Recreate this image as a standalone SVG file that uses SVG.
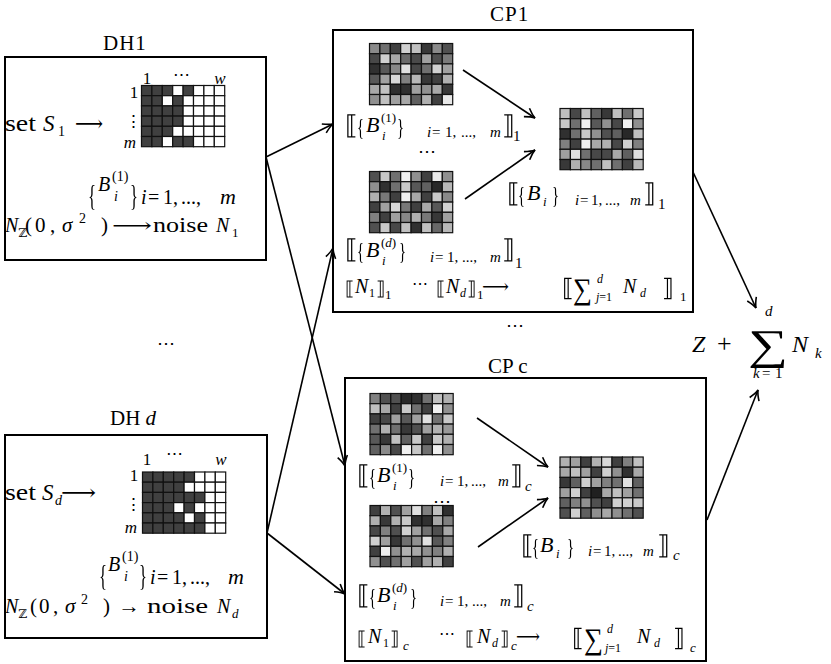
<svg xmlns="http://www.w3.org/2000/svg" width="831" height="664" viewBox="0 0 831 664">
<style>
text{font-family:"Liberation Serif","DejaVu Serif",serif;fill:#000}
.i{font-style:italic}
.db{font-family:"DejaVu Serif",serif}
.node{filter:url(#gs)}
.box{fill:#fff;stroke:#000;stroke-width:2}
.g rect{width:10.4px;height:10.2px;stroke:#111;stroke-width:1.2}
.ln{stroke:#000;stroke-width:1.6;fill:none}
.b{font-size:26px}
.br{font-size:24px}
.s{font-size:13px}
.m{font-size:22px}
.sub{font-size:15px}
.n{font-size:20px}
</style>
<defs>
<filter id="gs" x="0" y="0" width="831" height="664" filterUnits="userSpaceOnUse"><feOffset dx="0" dy="0"/></filter>
<marker id="ah" viewBox="0 0 12 12" refX="11" refY="6" markerWidth="12" markerHeight="12" markerUnits="userSpaceOnUse" orient="auto">
<path d="M1,1 Q7,5 11,6 Q7,7 1,11" fill="none" stroke="#000" stroke-width="1.6"/>
</marker>
</defs>
<rect width="831" height="664" fill="#fff"/>

<g id="DH1">
<rect class="box" x="5" y="57" width="261" height="203"/>
<text x="103" y="50" font-size="21" letter-spacing="1">DH1</text>
<text x="5" y="131" font-size="23" textLength="31" lengthAdjust="spacingAndGlyphs">set</text>
<text x="43" y="131" font-size="23" class="i">S</text>
<text x="58" y="136" font-size="14">1</text>
<text x="75" y="131" class="m" textLength="28" lengthAdjust="spacingAndGlyphs">⟶</text>
<text x="147" y="84" font-size="17" text-anchor="middle">1</text>
<text x="181" y="80" font-size="17" text-anchor="middle">⋯</text>
<text x="220" y="84" font-size="17" text-anchor="middle" class="i">w</text>
<text x="134" y="98" font-size="17" text-anchor="middle">1</text>
<text x="133" y="127" font-size="17" text-anchor="middle">⋮</text>
<text x="130" y="148" font-size="17" text-anchor="middle" class="i">m</text>
<g class="g" transform="translate(141.5,85.5)">
<rect x="0" y="0" fill="#404040"/><rect x="10.4" y="0" fill="#404040"/><rect x="20.8" y="0" fill="#404040"/><rect x="31.2" y="0" fill="#fff"/><rect x="41.6" y="0" fill="#404040"/><rect x="52" y="0" fill="#fff"/><rect x="62.4" y="0" fill="#fff"/><rect x="72.8" y="0" fill="#fff"/>
<rect x="0" y="10.2" fill="#404040"/><rect x="10.4" y="10.2" fill="#404040"/><rect x="20.8" y="10.2" fill="#fff"/><rect x="31.2" y="10.2" fill="#404040"/><rect x="41.6" y="10.2" fill="#fff"/><rect x="52" y="10.2" fill="#fff"/><rect x="62.4" y="10.2" fill="#fff"/><rect x="72.8" y="10.2" fill="#fff"/>
<rect x="0" y="20.4" fill="#404040"/><rect x="10.4" y="20.4" fill="#404040"/><rect x="20.8" y="20.4" fill="#404040"/><rect x="31.2" y="20.4" fill="#404040"/><rect x="41.6" y="20.4" fill="#fff"/><rect x="52" y="20.4" fill="#fff"/><rect x="62.4" y="20.4" fill="#fff"/><rect x="72.8" y="20.4" fill="#fff"/>
<rect x="0" y="30.6" fill="#404040"/><rect x="10.4" y="30.6" fill="#404040"/><rect x="20.8" y="30.6" fill="#404040"/><rect x="31.2" y="30.6" fill="#404040"/><rect x="41.6" y="30.6" fill="#fff"/><rect x="52" y="30.6" fill="#fff"/><rect x="62.4" y="30.6" fill="#fff"/><rect x="72.8" y="30.6" fill="#fff"/>
<rect x="0" y="40.8" fill="#404040"/><rect x="10.4" y="40.8" fill="#404040"/><rect x="20.8" y="40.8" fill="#404040"/><rect x="31.2" y="40.8" fill="#fff"/><rect x="41.6" y="40.8" fill="#fff"/><rect x="52" y="40.8" fill="#fff"/><rect x="62.4" y="40.8" fill="#fff"/><rect x="72.8" y="40.8" fill="#fff"/>
<rect x="0" y="51" fill="#404040"/><rect x="10.4" y="51" fill="#404040"/><rect x="20.8" y="51" fill="#fff"/><rect x="31.2" y="51" fill="#404040"/><rect x="41.6" y="51" fill="#404040"/><rect x="52" y="51" fill="#fff"/><rect x="62.4" y="51" fill="#fff"/><rect x="72.8" y="51" fill="#fff"/>
</g>
<g class="node">
<text x="88" y="205" font-size="30" textLength="8" lengthAdjust="spacingAndGlyphs">{</text>
<text x="130" y="205" font-size="30" textLength="8" lengthAdjust="spacingAndGlyphs">}</text>
</g>
<text x="98" y="191" class="n i">B</text>
<text x="112" y="181" font-size="14">(1)</text>
<text x="114" y="201" font-size="14" class="i">i</text>
<text y="204" class="n"><tspan x="141" class="i">i</tspan><tspan x="148">=</tspan><tspan x="163">1,</tspan><tspan x="181">...,</tspan><tspan x="220" class="i" font-size="22">m</tspan></text>
<text x="5" y="232" class="n i">N</text>
<text x="18" y="237" font-size="12" class="db">ℤ</text>
<text y="232" font-size="21"><tspan x="25">(</tspan><tspan x="35">0</tspan><tspan x="50">,</tspan><tspan x="62" class="i">σ</tspan><tspan x="79" y="223" font-size="14">2</tspan><tspan x="101" y="232">)</tspan></text>
<text x="112" y="232" class="n" textLength="40" lengthAdjust="spacingAndGlyphs">⟶</text>
<text x="153" y="232" class="n" textLength="55" lengthAdjust="spacingAndGlyphs">noise</text>
<text x="216" y="232" class="n i">N</text>
<text x="232" y="237" class="s">1</text>
</g>

<text x="166" y="349" font-size="18" text-anchor="middle">⋯</text>

<g id="DHd">
<rect class="box" x="5" y="435" width="262" height="203"/>
<text x="110" y="425" font-size="21">DH <tspan class="i">d</tspan></text>
<text x="5" y="500" font-size="23" textLength="31" lengthAdjust="spacingAndGlyphs">set</text>
<text x="42" y="500" font-size="23" class="i">S</text>
<text x="55" y="505" font-size="14" class="i">d</text>
<text x="61" y="500" class="m" textLength="35" lengthAdjust="spacingAndGlyphs">⟶</text>
<text x="147" y="465" font-size="17" text-anchor="middle">1</text>
<text x="174" y="459" font-size="17" text-anchor="middle">⋯</text>
<text x="221" y="465" font-size="17" text-anchor="middle" class="i">w</text>
<text x="134" y="481" font-size="17" text-anchor="middle">1</text>
<text x="133" y="510" font-size="17" text-anchor="middle">⋮</text>
<text x="131" y="533" font-size="17" text-anchor="middle" class="i">m</text>
<g class="g" transform="translate(142.5,472)">
<rect x="0" y="0" fill="#404040"/><rect x="10.4" y="0" fill="#404040"/><rect x="20.8" y="0" fill="#404040"/><rect x="31.2" y="0" fill="#404040"/><rect x="41.6" y="0" fill="#404040"/><rect x="52" y="0" fill="#fff"/><rect x="62.4" y="0" fill="#fff"/><rect x="72.8" y="0" fill="#fff"/>
<rect x="0" y="10.2" fill="#404040"/><rect x="10.4" y="10.2" fill="#404040"/><rect x="20.8" y="10.2" fill="#404040"/><rect x="31.2" y="10.2" fill="#404040"/><rect x="41.6" y="10.2" fill="#fff"/><rect x="52" y="10.2" fill="#fff"/><rect x="62.4" y="10.2" fill="#fff"/><rect x="72.8" y="10.2" fill="#fff"/>
<rect x="0" y="20.4" fill="#404040"/><rect x="10.4" y="20.4" fill="#404040"/><rect x="20.8" y="20.4" fill="#404040"/><rect x="31.2" y="20.4" fill="#404040"/><rect x="41.6" y="20.4" fill="#404040"/><rect x="52" y="20.4" fill="#404040"/><rect x="62.4" y="20.4" fill="#fff"/><rect x="72.8" y="20.4" fill="#fff"/>
<rect x="0" y="30.6" fill="#404040"/><rect x="10.4" y="30.6" fill="#404040"/><rect x="20.8" y="30.6" fill="#404040"/><rect x="31.2" y="30.6" fill="#fff"/><rect x="41.6" y="30.6" fill="#404040"/><rect x="52" y="30.6" fill="#fff"/><rect x="62.4" y="30.6" fill="#fff"/><rect x="72.8" y="30.6" fill="#fff"/>
<rect x="0" y="40.8" fill="#404040"/><rect x="10.4" y="40.8" fill="#404040"/><rect x="20.8" y="40.8" fill="#404040"/><rect x="31.2" y="40.8" fill="#404040"/><rect x="41.6" y="40.8" fill="#fff"/><rect x="52" y="40.8" fill="#404040"/><rect x="62.4" y="40.8" fill="#fff"/><rect x="72.8" y="40.8" fill="#fff"/>
<rect x="0" y="51" fill="#404040"/><rect x="10.4" y="51" fill="#404040"/><rect x="20.8" y="51" fill="#404040"/><rect x="31.2" y="51" fill="#404040"/><rect x="41.6" y="51" fill="#404040"/><rect x="52" y="51" fill="#404040"/><rect x="62.4" y="51" fill="#fff"/><rect x="72.8" y="51" fill="#fff"/>
</g>
<g class="node">
<text x="99" y="585" font-size="30" textLength="8" lengthAdjust="spacingAndGlyphs">{</text>
<text x="139" y="585" font-size="30" textLength="8" lengthAdjust="spacingAndGlyphs">}</text>
</g>
<text x="108" y="571" class="n i">B</text>
<text x="122" y="561" font-size="14">(1)</text>
<text x="124" y="581" font-size="14" class="i">i</text>
<text y="584" class="n"><tspan x="150" class="i">i</tspan><tspan x="157">=</tspan><tspan x="172">1,</tspan><tspan x="190">...,</tspan><tspan x="228" class="i" font-size="22">m</tspan></text>
<text x="5" y="613" class="n i">N</text>
<text x="18" y="618" font-size="12" class="db">ℤ</text>
<text y="613" font-size="21"><tspan x="30">(</tspan><tspan x="39">0</tspan><tspan x="53">,</tspan><tspan x="65" class="i">σ</tspan><tspan x="81" y="604" font-size="14">2</tspan><tspan x="103" y="613">)</tspan></text>
<text x="118" y="613" class="n" textLength="22" lengthAdjust="spacingAndGlyphs">→</text>
<text x="147" y="613" class="n" textLength="61" lengthAdjust="spacingAndGlyphs">noise</text>
<text x="217" y="613" class="n i">N</text>
<text x="232" y="618" class="s i">d</text>
</g>

<g id="CP1">
<rect class="box" x="333" y="30" width="360" height="282"/>
<text x="490" y="21" font-size="21" letter-spacing="1">CP1</text>
<g class="g" transform="translate(369.5,43.5)">
<rect x="0" y="0" fill="#8a8a8a"/><rect x="10.4" y="0" fill="#707070"/><rect x="20.8" y="0" fill="#404040"/><rect x="31.2" y="0" fill="#d0d0d0"/><rect x="41.6" y="0" fill="#c0c0c0"/><rect x="52" y="0" fill="#383838"/><rect x="62.4" y="0" fill="#8a8a8a"/><rect x="72.8" y="0" fill="#505050"/>
<rect x="0" y="10.2" fill="#484848"/><rect x="10.4" y="10.2" fill="#d0d0d0"/><rect x="20.8" y="10.2" fill="#a8a8a8"/><rect x="31.2" y="10.2" fill="#6a6a6a"/><rect x="41.6" y="10.2" fill="#4a4a4a"/><rect x="52" y="10.2" fill="#a0a0a0"/><rect x="62.4" y="10.2" fill="#505050"/><rect x="72.8" y="10.2" fill="#7a7a7a"/>
<rect x="0" y="20.4" fill="#303030"/><rect x="10.4" y="20.4" fill="#585858"/><rect x="20.8" y="20.4" fill="#888888"/><rect x="31.2" y="20.4" fill="#e0e0e0"/><rect x="41.6" y="20.4" fill="#484848"/><rect x="52" y="20.4" fill="#707070"/><rect x="62.4" y="20.4" fill="#d0d0d0"/><rect x="72.8" y="20.4" fill="#a0a0a0"/>
<rect x="0" y="30.6" fill="#585858"/><rect x="10.4" y="30.6" fill="#a0a0a0"/><rect x="20.8" y="30.6" fill="#d8d8d8"/><rect x="31.2" y="30.6" fill="#808080"/><rect x="41.6" y="30.6" fill="#b8b8b8"/><rect x="52" y="30.6" fill="#383838"/><rect x="62.4" y="30.6" fill="#404040"/><rect x="72.8" y="30.6" fill="#b0b0b0"/>
<rect x="0" y="40.8" fill="#a8a8a8"/><rect x="10.4" y="40.8" fill="#c0c0c0"/><rect x="20.8" y="40.8" fill="#303030"/><rect x="31.2" y="40.8" fill="#303030"/><rect x="41.6" y="40.8" fill="#a0a0a0"/><rect x="52" y="40.8" fill="#909090"/><rect x="62.4" y="40.8" fill="#a8a8a8"/><rect x="72.8" y="40.8" fill="#383838"/>
<rect x="0" y="51" fill="#909090"/><rect x="10.4" y="51" fill="#c0c0c0"/><rect x="20.8" y="51" fill="#a0a0a0"/><rect x="31.2" y="51" fill="#a8a8a8"/><rect x="41.6" y="51" fill="#606060"/><rect x="52" y="51" fill="#b0b0b0"/><rect x="62.4" y="51" fill="#404040"/><rect x="72.8" y="51" fill="#e8e8e8"/>
</g>
<g class="g" transform="translate(369.5,171.5)">
<rect x="0" y="0" fill="#505050"/><rect x="10.4" y="0" fill="#c8c8c8"/><rect x="20.8" y="0" fill="#707070"/><rect x="31.2" y="0" fill="#f0f0f0"/><rect x="41.6" y="0" fill="#909090"/><rect x="52" y="0" fill="#404040"/><rect x="62.4" y="0" fill="#e8e8e8"/><rect x="72.8" y="0" fill="#909090"/>
<rect x="0" y="10.2" fill="#909090"/><rect x="10.4" y="10.2" fill="#303030"/><rect x="20.8" y="10.2" fill="#707070"/><rect x="31.2" y="10.2" fill="#c8c8c8"/><rect x="41.6" y="10.2" fill="#585858"/><rect x="52" y="10.2" fill="#606060"/><rect x="62.4" y="10.2" fill="#282828"/><rect x="72.8" y="10.2" fill="#b8b8b8"/>
<rect x="0" y="20.4" fill="#b0b0b0"/><rect x="10.4" y="20.4" fill="#787878"/><rect x="20.8" y="20.4" fill="#404040"/><rect x="31.2" y="20.4" fill="#f0f0f0"/><rect x="41.6" y="20.4" fill="#a8a8a8"/><rect x="52" y="20.4" fill="#404040"/><rect x="62.4" y="20.4" fill="#c8c8c8"/><rect x="72.8" y="20.4" fill="#888888"/>
<rect x="0" y="30.6" fill="#404040"/><rect x="10.4" y="30.6" fill="#a0a0a0"/><rect x="20.8" y="30.6" fill="#d8d8d8"/><rect x="31.2" y="30.6" fill="#787878"/><rect x="41.6" y="30.6" fill="#404040"/><rect x="52" y="30.6" fill="#a8a8a8"/><rect x="62.4" y="30.6" fill="#585858"/><rect x="72.8" y="30.6" fill="#d0d0d0"/>
<rect x="0" y="40.8" fill="#808080"/><rect x="10.4" y="40.8" fill="#404040"/><rect x="20.8" y="40.8" fill="#a0a0a0"/><rect x="31.2" y="40.8" fill="#888888"/><rect x="41.6" y="40.8" fill="#b0b0b0"/><rect x="52" y="40.8" fill="#787878"/><rect x="62.4" y="40.8" fill="#383838"/><rect x="72.8" y="40.8" fill="#a0a0a0"/>
<rect x="0" y="51" fill="#505050"/><rect x="10.4" y="51" fill="#c8c8c8"/><rect x="20.8" y="51" fill="#484848"/><rect x="31.2" y="51" fill="#c0c0c0"/><rect x="41.6" y="51" fill="#303030"/><rect x="52" y="51" fill="#c0c0c0"/><rect x="62.4" y="51" fill="#686868"/><rect x="72.8" y="51" fill="#b8b8b8"/>
</g>
<g class="g" transform="translate(560,108.5)">
<rect x="0" y="0" fill="#c0c0c0"/><rect x="10.4" y="0" fill="#484848"/><rect x="20.8" y="0" fill="#c0c0c0"/><rect x="31.2" y="0" fill="#606060"/><rect x="41.6" y="0" fill="#383838"/><rect x="52" y="0" fill="#c0c0c0"/><rect x="62.4" y="0" fill="#707070"/><rect x="72.8" y="0" fill="#c8c8c8"/>
<rect x="0" y="10.2" fill="#c8c8c8"/><rect x="10.4" y="10.2" fill="#707070"/><rect x="20.8" y="10.2" fill="#f0f0f0"/><rect x="31.2" y="10.2" fill="#585858"/><rect x="41.6" y="10.2" fill="#909090"/><rect x="52" y="10.2" fill="#484848"/><rect x="62.4" y="10.2" fill="#f0f0f0"/><rect x="72.8" y="10.2" fill="#909090"/>
<rect x="0" y="20.4" fill="#303030"/><rect x="10.4" y="20.4" fill="#707070"/><rect x="20.8" y="20.4" fill="#c8c8c8"/><rect x="31.2" y="20.4" fill="#909090"/><rect x="41.6" y="20.4" fill="#505050"/><rect x="52" y="20.4" fill="#606060"/><rect x="62.4" y="20.4" fill="#282828"/><rect x="72.8" y="20.4" fill="#c0c0c0"/>
<rect x="0" y="30.6" fill="#808080"/><rect x="10.4" y="30.6" fill="#404040"/><rect x="20.8" y="30.6" fill="#f0f0f0"/><rect x="31.2" y="30.6" fill="#a8a8a8"/><rect x="41.6" y="30.6" fill="#b0b0b0"/><rect x="52" y="30.6" fill="#484848"/><rect x="62.4" y="30.6" fill="#d0d0d0"/><rect x="72.8" y="30.6" fill="#808080"/>
<rect x="0" y="40.8" fill="#a0a0a0"/><rect x="10.4" y="40.8" fill="#e0e0e0"/><rect x="20.8" y="40.8" fill="#707070"/><rect x="31.2" y="40.8" fill="#484848"/><rect x="41.6" y="40.8" fill="#484848"/><rect x="52" y="40.8" fill="#a8a8a8"/><rect x="62.4" y="40.8" fill="#606060"/><rect x="72.8" y="40.8" fill="#e0e0e0"/>
<rect x="0" y="51" fill="#383838"/><rect x="10.4" y="51" fill="#b0b0b0"/><rect x="20.8" y="51" fill="#888888"/><rect x="31.2" y="51" fill="#707070"/><rect x="41.6" y="51" fill="#c0c0c0"/><rect x="52" y="51" fill="#707070"/><rect x="62.4" y="51" fill="#404040"/><rect x="72.8" y="51" fill="#b8b8b8"/>
</g>
<g class="node">
<text x="345" y="134" class="b db">⟦</text>
<text x="357" y="135" class="br" textLength="7" lengthAdjust="spacingAndGlyphs">{</text>
<text x="397" y="135" class="br" textLength="7" lengthAdjust="spacingAndGlyphs">}</text>
<text x="502" y="134" class="b db">⟧</text>
<text x="507" y="202" class="b db">⟦</text>
<text x="518" y="203" class="br" textLength="7" lengthAdjust="spacingAndGlyphs">{</text>
<text x="552" y="203" class="br" textLength="7" lengthAdjust="spacingAndGlyphs">}</text>
<text x="643" y="202" class="b db">⟧</text>
<text x="345" y="258" class="b db">⟦</text>
<text x="357" y="259" class="br" textLength="7" lengthAdjust="spacingAndGlyphs">{</text>
<text x="399" y="259" class="br" textLength="7" lengthAdjust="spacingAndGlyphs">}</text>
<text x="502" y="258" class="b db">⟧</text>
<text x="345" y="295" class="db" font-size="19">⟦</text>
<text x="376" y="295" class="db" font-size="19">⟧</text>
<text x="436" y="295" class="db" font-size="19">⟦</text>
<text x="467" y="295" class="db" font-size="19">⟧</text>
<text x="562" y="296" class="br db">⟦</text>
<text x="662" y="296" class="br db">⟧</text>
</g>
<text x="366" y="132" class="m i">B</text>
<text x="381" y="122" class="s">(1)</text>
<text x="382" y="140" class="s i">i</text>
<text y="137" class="sub"><tspan x="427" class="i">i</tspan><tspan x="432">=</tspan><tspan x="445">1,</tspan><tspan x="461">...,</tspan><tspan x="490" class="i">m</tspan></text>
<text x="513" y="141" class="sub">1</text>
<text x="427" y="157" font-size="18" text-anchor="middle">⋯</text>
<text x="527" y="200" class="m i">B</text>
<text x="543" y="206" class="s i">i</text>
<text y="205" class="sub"><tspan x="575" class="i">i</tspan><tspan x="580">=</tspan><tspan x="591">1,</tspan><tspan x="605">...,</tspan><tspan x="630" class="i">m</tspan></text>
<text x="658" y="209" class="sub">1</text>
<text x="366" y="257" class="m i">B</text>
<text x="381" y="247" class="s">(<tspan class="i">d</tspan>)</text>
<text x="382" y="265" class="s i">i</text>
<text y="262" class="sub"><tspan x="430" class="i">i</tspan><tspan x="435">=</tspan><tspan x="447">1,</tspan><tspan x="462">...,</tspan><tspan x="490" class="i">m</tspan></text>
<text x="515" y="268" class="sub">1</text>
<text x="355" y="293" class="n i">N</text>
<text x="369" y="297" font-size="12">1</text>
<text x="385" y="299" class="s">1</text>
<text x="420" y="289" font-size="16" text-anchor="middle">⋯</text>
<text x="446" y="293" class="n i">N</text>
<text x="460" y="297" font-size="12" class="i">d</text>
<text x="477" y="299" class="s">1</text>
<text x="482" y="293" class="n" textLength="27" lengthAdjust="spacingAndGlyphs">⟶</text>
<text x="573" y="299" font-size="30" textLength="19" lengthAdjust="spacingAndGlyphs">∑</text>
<text x="597" y="283" font-size="12" class="i">d</text>
<text x="596" y="301" font-size="12"><tspan class="i">j</tspan>=1</text>
<text x="623" y="293" class="n i">N</text>
<text x="640" y="297" font-size="12" class="i">d</text>
<text x="680" y="301" class="s">1</text>
</g>

<text x="515" y="331" font-size="18" text-anchor="middle">⋯</text>

<g id="CPc">
<rect class="box" x="345" y="378" width="361" height="283"/>
<text x="488" y="373" font-size="21">CP c</text>
<g class="g" transform="translate(370,393.5)">
<rect x="0" y="0" fill="#808080"/><rect x="10.4" y="0" fill="#505050"/><rect x="20.8" y="0" fill="#505050"/><rect x="31.2" y="0" fill="#282828"/><rect x="41.6" y="0" fill="#303030"/><rect x="52" y="0" fill="#707070"/><rect x="62.4" y="0" fill="#c0c0c0"/><rect x="72.8" y="0" fill="#b0b0b0"/>
<rect x="0" y="10.2" fill="#c0c0c0"/><rect x="10.4" y="10.2" fill="#a8a8a8"/><rect x="20.8" y="10.2" fill="#404040"/><rect x="31.2" y="10.2" fill="#c8c8c8"/><rect x="41.6" y="10.2" fill="#707070"/><rect x="52" y="10.2" fill="#404040"/><rect x="62.4" y="10.2" fill="#f0f0f0"/><rect x="72.8" y="10.2" fill="#909090"/>
<rect x="0" y="20.4" fill="#404040"/><rect x="10.4" y="20.4" fill="#484848"/><rect x="20.8" y="20.4" fill="#a0a0a0"/><rect x="31.2" y="20.4" fill="#585858"/><rect x="41.6" y="20.4" fill="#a0a0a0"/><rect x="52" y="20.4" fill="#e0e0e0"/><rect x="62.4" y="20.4" fill="#707070"/><rect x="72.8" y="20.4" fill="#c8c8c8"/>
<rect x="0" y="30.6" fill="#707070"/><rect x="10.4" y="30.6" fill="#b0b0b0"/><rect x="20.8" y="30.6" fill="#707070"/><rect x="31.2" y="30.6" fill="#383838"/><rect x="41.6" y="30.6" fill="#505050"/><rect x="52" y="30.6" fill="#a0a0a0"/><rect x="62.4" y="30.6" fill="#b0b0b0"/><rect x="72.8" y="30.6" fill="#989898"/>
<rect x="0" y="40.8" fill="#585858"/><rect x="10.4" y="40.8" fill="#383838"/><rect x="20.8" y="40.8" fill="#c0c0c0"/><rect x="31.2" y="40.8" fill="#606060"/><rect x="41.6" y="40.8" fill="#c8c8c8"/><rect x="52" y="40.8" fill="#404040"/><rect x="62.4" y="40.8" fill="#c8c8c8"/><rect x="72.8" y="40.8" fill="#b0b0b0"/>
<rect x="0" y="51" fill="#606060"/><rect x="10.4" y="51" fill="#8a8a8a"/><rect x="20.8" y="51" fill="#484848"/><rect x="31.2" y="51" fill="#f0f0f0"/><rect x="41.6" y="51" fill="#c8c8c8"/><rect x="52" y="51" fill="#707070"/><rect x="62.4" y="51" fill="#f0f0f0"/><rect x="72.8" y="51" fill="#909090"/>
</g>
<g class="g" transform="translate(370,505.5)">
<rect x="0" y="0" fill="#404040"/><rect x="10.4" y="0" fill="#b0b0b0"/><rect x="20.8" y="0" fill="#505050"/><rect x="31.2" y="0" fill="#a0a0a0"/><rect x="41.6" y="0" fill="#e0e0e0"/><rect x="52" y="0" fill="#808080"/><rect x="62.4" y="0" fill="#c0c0c0"/><rect x="72.8" y="0" fill="#303030"/>
<rect x="0" y="10.2" fill="#b0b0b0"/><rect x="10.4" y="10.2" fill="#383838"/><rect x="20.8" y="10.2" fill="#b0b0b0"/><rect x="31.2" y="10.2" fill="#c8c8c8"/><rect x="41.6" y="10.2" fill="#303030"/><rect x="52" y="10.2" fill="#303030"/><rect x="62.4" y="10.2" fill="#a8a8a8"/><rect x="72.8" y="10.2" fill="#808080"/>
<rect x="0" y="20.4" fill="#484848"/><rect x="10.4" y="20.4" fill="#808080"/><rect x="20.8" y="20.4" fill="#505050"/><rect x="31.2" y="20.4" fill="#d0d0d0"/><rect x="41.6" y="20.4" fill="#a0a0a0"/><rect x="52" y="20.4" fill="#707070"/><rect x="62.4" y="20.4" fill="#505050"/><rect x="72.8" y="20.4" fill="#a8a8a8"/>
<rect x="0" y="30.6" fill="#d0d0d0"/><rect x="10.4" y="30.6" fill="#a0a0a0"/><rect x="20.8" y="30.6" fill="#383838"/><rect x="31.2" y="30.6" fill="#707070"/><rect x="41.6" y="30.6" fill="#909090"/><rect x="52" y="30.6" fill="#e0e0e0"/><rect x="62.4" y="30.6" fill="#585858"/><rect x="72.8" y="30.6" fill="#808080"/>
<rect x="0" y="40.8" fill="#404040"/><rect x="10.4" y="40.8" fill="#f0f0f0"/><rect x="20.8" y="40.8" fill="#909090"/><rect x="31.2" y="40.8" fill="#b0b0b0"/><rect x="41.6" y="40.8" fill="#a8a8a8"/><rect x="52" y="40.8" fill="#909090"/><rect x="62.4" y="40.8" fill="#808080"/><rect x="72.8" y="40.8" fill="#b0b0b0"/>
<rect x="0" y="51" fill="#909090"/><rect x="10.4" y="51" fill="#505050"/><rect x="20.8" y="51" fill="#707070"/><rect x="31.2" y="51" fill="#a0a0a0"/><rect x="41.6" y="51" fill="#505050"/><rect x="52" y="51" fill="#a0a0a0"/><rect x="62.4" y="51" fill="#b0b0b0"/><rect x="72.8" y="51" fill="#404040"/>
</g>
<g class="g" transform="translate(560,457)">
<rect x="0" y="0" fill="#b0b0b0"/><rect x="10.4" y="0" fill="#a0a0a0"/><rect x="20.8" y="0" fill="#404040"/><rect x="31.2" y="0" fill="#b0b0b0"/><rect x="41.6" y="0" fill="#d8d8d8"/><rect x="52" y="0" fill="#404040"/><rect x="62.4" y="0" fill="#808080"/><rect x="72.8" y="0" fill="#c0c0c0"/>
<rect x="0" y="10.2" fill="#a8a8a8"/><rect x="10.4" y="10.2" fill="#c0c0c0"/><rect x="20.8" y="10.2" fill="#a0a0a0"/><rect x="31.2" y="10.2" fill="#404040"/><rect x="41.6" y="10.2" fill="#d0d0d0"/><rect x="52" y="10.2" fill="#909090"/><rect x="62.4" y="10.2" fill="#303030"/><rect x="72.8" y="10.2" fill="#a8a8a8"/>
<rect x="0" y="20.4" fill="#383838"/><rect x="10.4" y="20.4" fill="#606060"/><rect x="20.8" y="20.4" fill="#d0d0d0"/><rect x="31.2" y="20.4" fill="#a0a0a0"/><rect x="41.6" y="20.4" fill="#808080"/><rect x="52" y="20.4" fill="#707070"/><rect x="62.4" y="20.4" fill="#e0e0e0"/><rect x="72.8" y="20.4" fill="#606060"/>
<rect x="0" y="30.6" fill="#a0a0a0"/><rect x="10.4" y="30.6" fill="#d0d0d0"/><rect x="20.8" y="30.6" fill="#404040"/><rect x="31.2" y="30.6" fill="#202020"/><rect x="41.6" y="30.6" fill="#a8a8a8"/><rect x="52" y="30.6" fill="#c0c0c0"/><rect x="62.4" y="30.6" fill="#a0a0a0"/><rect x="72.8" y="30.6" fill="#707070"/>
<rect x="0" y="40.8" fill="#606060"/><rect x="10.4" y="40.8" fill="#808080"/><rect x="20.8" y="40.8" fill="#909090"/><rect x="31.2" y="40.8" fill="#505050"/><rect x="41.6" y="40.8" fill="#404040"/><rect x="52" y="40.8" fill="#d0d0d0"/><rect x="62.4" y="40.8" fill="#d0d0d0"/><rect x="72.8" y="40.8" fill="#c8c8c8"/>
<rect x="0" y="51" fill="#505050"/><rect x="10.4" y="51" fill="#d0d0d0"/><rect x="20.8" y="51" fill="#606060"/><rect x="31.2" y="51" fill="#909090"/><rect x="41.6" y="51" fill="#a8a8a8"/><rect x="52" y="51" fill="#909090"/><rect x="62.4" y="51" fill="#707070"/><rect x="72.8" y="51" fill="#505050"/>
</g>
<g class="node">
<text x="357" y="484" class="b db">⟦</text>
<text x="369" y="485" class="br" textLength="7" lengthAdjust="spacingAndGlyphs">{</text>
<text x="408" y="485" class="br" textLength="7" lengthAdjust="spacingAndGlyphs">}</text>
<text x="510" y="484" class="b db">⟧</text>
<text x="521" y="554" class="b db">⟦</text>
<text x="532" y="555" class="br" textLength="7" lengthAdjust="spacingAndGlyphs">{</text>
<text x="567" y="555" class="br" textLength="7" lengthAdjust="spacingAndGlyphs">}</text>
<text x="657" y="554" class="b db">⟧</text>
<text x="357" y="604" class="b db">⟦</text>
<text x="369" y="605" class="br" textLength="7" lengthAdjust="spacingAndGlyphs">{</text>
<text x="410" y="605" class="br" textLength="7" lengthAdjust="spacingAndGlyphs">}</text>
<text x="512" y="604" class="b db">⟧</text>
<text x="357" y="645" class="db" font-size="19">⟦</text>
<text x="390" y="645" class="db" font-size="19">⟧</text>
<text x="465" y="645" class="db" font-size="19">⟦</text>
<text x="500" y="645" class="db" font-size="19">⟧</text>
<text x="572" y="646" class="br db">⟦</text>
<text x="673" y="646" class="br db">⟧</text>
</g>
<text x="377" y="482" class="m i">B</text>
<text x="392" y="472" class="s">(1)</text>
<text x="393" y="490" class="s i">i</text>
<text y="486" class="sub"><tspan x="440" class="i">i</tspan><tspan x="445">=</tspan><tspan x="457">1,</tspan><tspan x="471">...,</tspan><tspan x="498" class="i">m</tspan></text>
<text x="525" y="491" class="sub i">c</text>
<text x="442" y="507" font-size="18" text-anchor="middle">⋯</text>
<text x="540" y="552" class="m i">B</text>
<text x="556" y="558" class="s i">i</text>
<text y="556" class="sub"><tspan x="588" class="i">i</tspan><tspan x="593">=</tspan><tspan x="604">1,</tspan><tspan x="618">...,</tspan><tspan x="643" class="i">m</tspan></text>
<text x="673" y="560" class="sub i">c</text>
<text x="377" y="602" class="m i">B</text>
<text x="392" y="592" class="s">(<tspan class="i">d</tspan>)</text>
<text x="393" y="610" class="s i">i</text>
<text y="606" class="sub"><tspan x="440" class="i">i</tspan><tspan x="445">=</tspan><tspan x="457">1,</tspan><tspan x="472">...,</tspan><tspan x="500" class="i">m</tspan></text>
<text x="527" y="611" class="sub i">c</text>
<text x="368" y="643" class="n i">N</text>
<text x="383" y="647" font-size="12">1</text>
<text x="403" y="650" class="s i">c</text>
<text x="447" y="639" font-size="16" text-anchor="middle">⋯</text>
<text x="477" y="643" class="n i">N</text>
<text x="492" y="647" font-size="12" class="i">d</text>
<text x="511" y="650" class="s i">c</text>
<text x="516" y="643" class="n" textLength="24" lengthAdjust="spacingAndGlyphs">⟶</text>
<text x="584" y="649" font-size="30" textLength="19" lengthAdjust="spacingAndGlyphs">∑</text>
<text x="607" y="633" font-size="12" class="i">d</text>
<text x="605" y="652" font-size="12"><tspan class="i">j</tspan>=1</text>
<text x="637" y="643" class="n i">N</text>
<text x="654" y="647" font-size="12" class="i">d</text>
<text x="690" y="652" class="s i">c</text>
</g>

<g id="result">
<text x="692" y="352" font-size="24" class="i">Z</text>
<text x="717" y="352" font-size="26">+</text>
<text x="748" y="359" font-size="42" textLength="40" lengthAdjust="spacingAndGlyphs">∑</text>
<text x="765" y="316" class="sub i">d</text>
<text y="378" class="sub"><tspan x="753" class="i">k</tspan><tspan x="762">=</tspan><tspan x="775">1</tspan></text>
<text x="792" y="352" font-size="24" class="i">N</text>
<text x="815" y="358" class="sub i">k</text>
</g>

<g id="connectors">
<line class="ln" x1="266" y1="157" x2="333" y2="124" marker-end="url(#ah)"/>
<line class="ln" x1="266" y1="157" x2="345" y2="466" marker-end="url(#ah)"/>
<line class="ln" x1="267" y1="533" x2="333" y2="248" marker-end="url(#ah)"/>
<line class="ln" x1="267" y1="533" x2="345" y2="594" marker-end="url(#ah)"/>
<line class="ln" x1="463" y1="70" x2="535" y2="118" marker-end="url(#ah)"/>
<line class="ln" x1="465" y1="199" x2="535" y2="150" marker-end="url(#ah)"/>
<line class="ln" x1="477" y1="418" x2="548" y2="467" marker-end="url(#ah)"/>
<line class="ln" x1="478" y1="547" x2="548" y2="498" marker-end="url(#ah)"/>
<line class="ln" x1="693" y1="172" x2="756" y2="308" marker-end="url(#ah)"/>
<line class="ln" x1="707" y1="520" x2="758" y2="390" marker-end="url(#ah)"/>
</g>
</svg>
